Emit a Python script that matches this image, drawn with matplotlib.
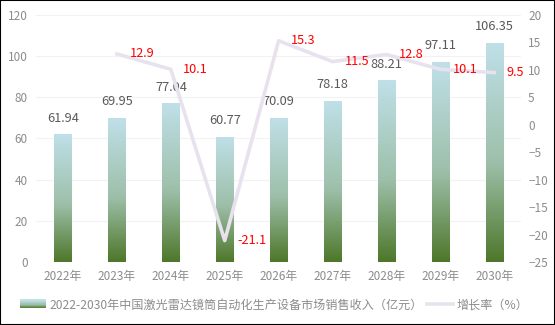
import matplotlib
matplotlib.use('Agg')
import matplotlib.pyplot as plt
import numpy as np
from matplotlib.colors import LinearSegmentedColormap
from matplotlib.patches import Rectangle
from matplotlib.lines import Line2D
from matplotlib.legend_handler import HandlerBase

plt.rcParams['font.family'] = ['Noto Sans CJK SC', 'DejaVu Sans']

years = ['2022年', '2023年', '2024年', '2025年', '2026年', '2027年', '2028年', '2029年', '2030年']
revenue = [61.94, 69.95, 77.04, 60.77, 70.09, 78.18, 88.21, 97.11, 106.35]
growth_years = years[1:]
growth = [12.9, 10.1, -21.1, 15.3, 11.5, 12.8, 10.1, 9.5]

bar_label = '2022-2030年中国激光雷达镜筒自动化生产设备市场销售收入（亿元）'
line_label = '增长率（%）'

grey = '#8C8C8C'
cmap = LinearSegmentedColormap.from_list('g', [(0, '#4E772A'), (0.45, '#9DBFA9'), (1, '#BFE0E8')])

fig = plt.figure(figsize=(5.55, 3.25), dpi=100)
ax = fig.add_axes([0.065, 0.194, 0.874, 0.760])
ax2 = ax.twinx()

x = np.arange(len(years))
bars = ax.bar(x, revenue, width=0.32, color='none', zorder=2)
grad = np.linspace(0, 1, 256).reshape(-1, 1)
for b in bars:
    x0, w, h = b.get_x(), b.get_width(), b.get_height()
    im = ax.imshow(grad, cmap=cmap, origin='lower', aspect='auto',
                   extent=[x0, x0 + w, 0, h], zorder=2)
    im.set_clip_path(b)
for xi, v in zip(x, revenue):
    ax.annotate(f'{v:.2f}', (xi, v), xytext=(0, 7), textcoords='offset points',
                ha='center', va='bottom', fontsize=9.2, color='#595959')

ax.set_xlim(-0.5, len(years) - 0.5)
ax.set_ylim(0, 120)
ax.set_yticks(np.arange(0, 121, 20))
ax.set_xticks(x)
ax.set_xticklabels(years)
ax.grid(axis='y', color='#F2F2F2', linewidth=0.8, zorder=0)
ax.set_axisbelow(True)

gx = np.arange(1, len(years))
ax2.plot(gx, growth, color='#E8E2EE', linewidth=2.6, zorder=3)
for xi, v in zip(gx, growth):
    ax2.annotate(f'{v}', (xi, v), xytext=(9, 0), textcoords='offset points',
                 ha='left', va='center', fontsize=9.2, color='#FF0000')
ax2.set_ylim(-25, 20)
ax2.set_yticks(np.arange(-25, 21, 5))

for a in (ax, ax2):
    for s in a.spines.values():
        s.set_visible(False)
    a.tick_params(length=0, labelsize=8.5, colors=grey)
ax.tick_params(axis='x', pad=6)
ax.tick_params(axis='y', pad=6)
ax2.tick_params(axis='y', pad=5)


class GradHandler(HandlerBase):
    def create_artists(self, legend, orig, xd, yd, width, height, fontsize, trans):
        n = 12
        arts = []
        for i in range(n):
            c = cmap(i / (n - 1))
            r = Rectangle((xd, yd + height * i / n), width, height / n + 0.3,
                          facecolor=c, edgecolor='none', transform=trans)
            arts.append(r)
        return arts


h1 = Rectangle((0, 0), 1, 1)
h2 = Line2D([0], [0], color='#E8E2EE', linewidth=2.6)
leg = fig.legend([h1, h2], [bar_label, line_label], loc='center',
                 bbox_to_anchor=(0.494, 0.062), ncol=2, frameon=False,
                 fontsize=8.7, handler_map={Rectangle: GradHandler()},
                 handlelength=2.1, handletextpad=0.3, columnspacing=0.4,
                 borderpad=0.2)
for t in leg.get_texts():
    t.set_color(grey)

fig.patches.append(Rectangle((0, 0), 1, 1, transform=fig.transFigure,
                             fill=False, edgecolor='black', linewidth=1.5))

fig.savefig('out.png', dpi=100)
